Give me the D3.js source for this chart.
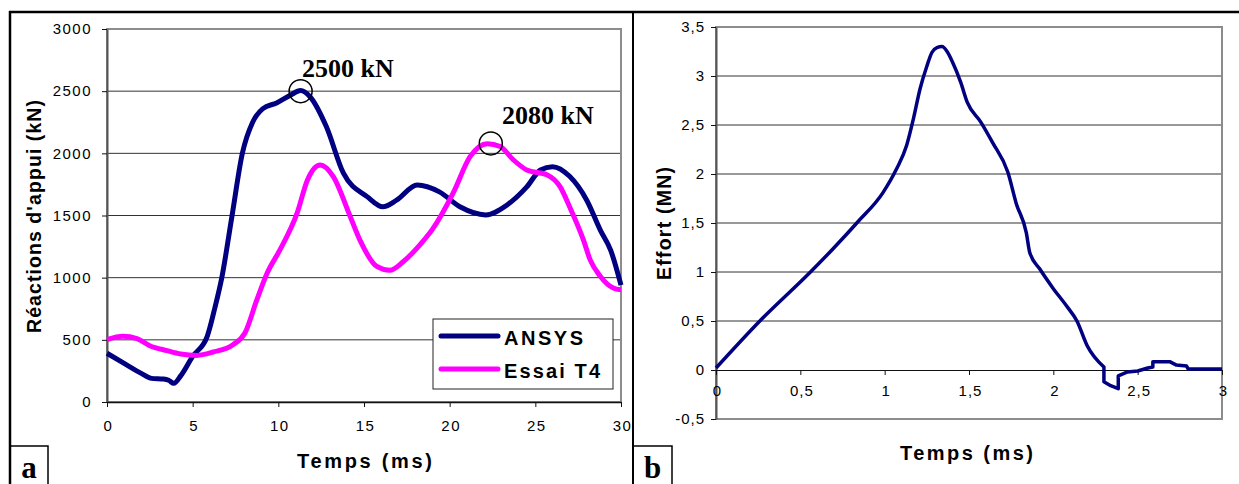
<!DOCTYPE html>
<html><head><meta charset="utf-8">
<script src="https://cdn.jsdelivr.net/npm/d3@7"></script>
<style>body{margin:0;background:#fff}svg{display:block}</style>
</head><body><svg id="c" width="1239" height="484"></svg>
<script>
// ---- Data (panel a) ----
const ansysT = [0, 1, 2, 2.6, 3.3, 3.6, 3.9, 4.3, 5, 5.85, 6.3, 6.7, 7.3, 7.9, 8.5, 9.1, 9.9, 10.7, 11.3, 11.85, 12.8, 13.8, 15.2, 16.1, 16.9, 18.1, 19.4, 20.6, 22.1, 23.35, 24.5, 25.3, 26.0, 27.0, 28.0, 28.8, 29.4, 30];
const ansysV = [392, 310, 230, 190, 185, 175, 150, 210, 367, 528, 760, 1000, 1500, 2000, 2250, 2360, 2405, 2467, 2505, 2455, 2215, 1840, 1650, 1570, 1623, 1745, 1690, 1570, 1505, 1585, 1730, 1866, 1893, 1815, 1623, 1380, 1220, 940];
const essaiT = [0, 0.93, 1.75, 2.5, 3.5, 4.3, 5.25, 6.2, 7.35, 8.05, 8.75, 9.35, 10.1, 11.1, 11.7, 12.45, 13.2, 14.2, 14.75, 15.75, 16.5, 17.3, 18.3, 19.0, 20.2, 21.2, 22.2, 22.95, 23.7, 24.5, 25.7, 26.45, 27, 27.8, 28.2, 28.8, 29.55, 30];
const essaiV = [501, 528, 509, 453, 413, 386, 375, 402, 461, 555, 823, 1037, 1225, 1521, 1786, 1906, 1815, 1490, 1306, 1090, 1059, 1130, 1270, 1390, 1680, 1975, 2078, 2055, 1950, 1866, 1826, 1730, 1570, 1306, 1143, 1010, 917, 903];
const seriesNames = ["ANSYS", "Essai T4"];
const peakT = [11.3, 22.4];
const peakV = [2500, 2080];
const peakLabels = ["2500 kN", "2080 kN"];
const xTicksA = [0, 5, 10, 15, 20, 25, 30];
const yTicksA = [0, 500, 1000, 1500, 2000, 2500, 3000];

// ---- Data (panel b) ----
const effortT = [0, 0.26, 0.56, 0.69, 0.84, 0.99, 1.07, 1.13, 1.17, 1.21, 1.25, 1.28, 1.31, 1.34, 1.37, 1.40, 1.45, 1.49, 1.57, 1.64, 1.73, 1.78, 1.84, 1.86, 1.92, 2.0, 2.08, 2.14, 2.2, 2.30, 2.30, 2.34, 2.385, 2.385, 2.44, 2.5, 2.56, 2.59, 2.59, 2.69, 2.73, 2.79, 2.80, 3.0];
const effortV = [0.02, 0.5, 1.0, 1.23, 1.51, 1.81, 2.05, 2.29, 2.56, 2.87, 3.1, 3.24, 3.29, 3.3, 3.25, 3.15, 2.94, 2.73, 2.53, 2.32, 2.02, 1.70, 1.40, 1.2, 1.03, 0.83, 0.65, 0.50, 0.25, 0.03, -0.12, -0.16, -0.19, -0.06, -0.02, -0.01, 0.02, 0.03, 0.085, 0.085, 0.05, 0.04, 0.01, 0.01];
const xTicksB = [0, 0.5, 1, 1.5, 2, 2.5, 3];
const yTicksB = [-0.5, 0, 0.5, 1, 1.5, 2, 2.5, 3, 3.5];

const svg = d3.select("#c");
const NAVY = "#000080", MAG = "#ff00ff", GRID = "#333", BORDER = "#8c8c8c";
const SANS = "Liberation Sans, Arial, sans-serif";
const fmtComma = d => String(d).replace(".", ",");

// ---------- Panel a ----------
const xA = d3.scaleLinear([0, 30], [107, 621]);
const yA = d3.scaleLinear([0, 3000], [402, 29]);
const gA = svg.append("g");
gA.selectAll("line.grid").data(yTicksA.filter(d => d > 0 && d < 3000)).join("line")
  .attr("x1", xA(0)).attr("x2", xA(30)).attr("y1", d => yA(d)).attr("y2", d => yA(d))
  .attr("stroke", GRID).attr("stroke-width", 1);
gA.append("rect").attr("x", xA(0)).attr("y", yA(3000)).attr("width", xA(30) - xA(0)).attr("height", yA(0) - yA(3000))
  .attr("fill", "none").attr("stroke", BORDER).attr("stroke-width", 2);
const axA_y = gA.append("g").attr("transform", `translate(${xA(0)},0)`)
  .call(d3.axisLeft(yA).tickValues(yTicksA).tickSize(5).tickSizeOuter(0).tickPadding(10).tickFormat(d => String(d)));
const axA_x = gA.append("g").attr("transform", `translate(0,${yA(0)})`)
  .call(d3.axisBottom(xA).tickValues(xTicksA).tickSize(5).tickSizeOuter(0).tickPadding(13).tickFormat(d => String(d)));
axA_y.select(".domain").attr("stroke", "#555").attr("stroke-width", 2);
axA_x.select(".domain").attr("stroke", "#111").attr("stroke-width", 1.5);
[axA_y, axA_x].forEach(a => {
  a.selectAll(".tick line").attr("stroke", "#111");
  a.selectAll("text").attr("font-family", SANS).attr("font-size", 15)
    .attr("letter-spacing", 1.5).attr("fill", "#000");
});
axA_x.selectAll("text").attr("dx", 1);

const lineA = d3.line().curve(d3.curveMonotoneX);
gA.append("path").attr("d", lineA(ansysT.map((t, i) => [xA(t), yA(ansysV[i])])))
  .attr("fill", "none").attr("stroke", NAVY).attr("stroke-width", 5).attr("stroke-linejoin", "round");
gA.append("path").attr("d", lineA(essaiT.map((t, i) => [xA(t), yA(essaiV[i])])))
  .attr("fill", "none").attr("stroke", MAG).attr("stroke-width", 5).attr("stroke-linejoin", "round");

gA.selectAll("circle.pk").data(peakT).join("circle")
  .attr("cx", d => xA(d)).attr("cy", (d, i) => yA(peakV[i])).attr("r", 11.5)
  .attr("fill", "none").attr("stroke", "#000").attr("stroke-width", 1.5);
gA.selectAll("text.pk").data(peakLabels).join("text")
  .attr("x", (d, i) => i === 0 ? 302 : 502).attr("y", (d, i) => i === 0 ? 77 : 124)
  .attr("font-family", "Liberation Serif, Times New Roman, serif").attr("font-weight", "bold")
  .attr("font-size", 26).attr("fill", "#000").text(d => d);

const lg = gA.append("g");
lg.append("rect").attr("x", 433).attr("y", 319).attr("width", 180).attr("height", 70)
  .attr("fill", "#fff").attr("stroke", "#222").attr("stroke-width", 1);
[[NAVY, 336, 345, 79], [MAG, 369, 378, 96]].forEach((s, i) => {
  lg.append("line").attr("x1", 441).attr("x2", 498).attr("y1", s[1]).attr("y2", s[1])
    .attr("stroke", s[0]).attr("stroke-width", 5).attr("stroke-linecap", "round");
  lg.append("text").attr("x", 504).attr("y", s[2]).attr("textLength", s[3]).attr("lengthAdjust", "spacing")
    .attr("font-family", SANS).attr("font-weight", "bold").attr("font-size", 20)
    .attr("fill", "#000").text(seriesNames[i]);
});

gA.append("text").attr("transform", "translate(41,216.5) rotate(-90)").attr("text-anchor", "middle")
  .attr("textLength", 233).attr("lengthAdjust", "spacing")
  .attr("font-family", SANS).attr("font-weight", "bold").attr("font-size", 19.5)
  .attr("fill", "#000").text("Réactions d'appui (kN)");
gA.append("text").attr("x", 364.5).attr("y", 468).attr("text-anchor", "middle")
  .attr("textLength", 135).attr("lengthAdjust", "spacing")
  .attr("font-family", SANS).attr("font-weight", "bold").attr("font-size", 20)
  .attr("fill", "#000").text("Temps (ms)");

// ---------- Panel b ----------
const xB = d3.scaleLinear([0, 3], [716, 1222]);
const yB = d3.scaleLinear([-0.5, 3.5], [419, 27]);
const gB = svg.append("g");
gB.selectAll("line.grid").data(yTicksB.filter(d => d > -0.5 && d < 3.5 && d !== 0)).join("line")
  .attr("x1", xB(0)).attr("x2", xB(3)).attr("y1", d => yB(d)).attr("y2", d => yB(d))
  .attr("stroke", GRID).attr("stroke-width", 1);
gB.append("rect").attr("x", xB(0)).attr("y", yB(3.5)).attr("width", xB(3) - xB(0)).attr("height", yB(-0.5) - yB(3.5))
  .attr("fill", "none").attr("stroke", BORDER).attr("stroke-width", 2);
const axB_y = gB.append("g").attr("transform", `translate(${xB(0)},0)`)
  .call(d3.axisLeft(yB).tickValues(yTicksB).tickSize(5).tickSizeOuter(0).tickPadding(6).tickFormat(fmtComma));
const axB_x = gB.append("g").attr("transform", `translate(0,${yB(0)})`)
  .call(d3.axisBottom(xB).tickValues(xTicksB).tickSize(5).tickSizeOuter(0).tickPadding(10).tickFormat(fmtComma));
axB_y.select(".domain").attr("stroke", "#555").attr("stroke-width", 2);
axB_x.select(".domain").attr("stroke", "#111").attr("stroke-width", 1.2);
[axB_y, axB_x].forEach(a => {
  a.selectAll(".tick line").attr("stroke", "#111");
  a.selectAll("text").attr("font-family", SANS).attr("font-size", 15)
    .attr("letter-spacing", 1).attr("fill", "#000");
});
axB_x.selectAll("text").attr("dx", 1);

const splitIdx = effortT.indexOf(2.30) + 1;
const ptsB = effortT.map((t, i) => [xB(t), yB(effortV[i])]);
gB.append("path").attr("d", d3.line().curve(d3.curveMonotoneX)(ptsB.slice(0, splitIdx)) +
    d3.line().curve(d3.curveLinear)(ptsB.slice(splitIdx - 1)).replace(/^M/, "L"))
  .attr("fill", "none").attr("stroke", NAVY).attr("stroke-width", 3.5).attr("stroke-linejoin", "round");

gB.append("text").attr("transform", "translate(671,223.5) rotate(-90)").attr("text-anchor", "middle")
  .attr("textLength", 113).attr("lengthAdjust", "spacing")
  .attr("font-family", SANS).attr("font-weight", "bold").attr("font-size", 19.5)
  .attr("fill", "#000").text("Effort (MN)");
gB.append("text").attr("x", 966.5).attr("y", 460).attr("text-anchor", "middle")
  .attr("textLength", 133).attr("lengthAdjust", "spacing")
  .attr("font-family", SANS).attr("font-weight", "bold").attr("font-size", 20)
  .attr("fill", "#000").text("Temps (ms)");

// ---------- Frames ----------
const fr = svg.append("g").attr("stroke", "#000").attr("fill", "none");
fr.append("line").attr("x1", 9).attr("x2", 1239).attr("y1", 12).attr("y2", 12).attr("stroke-width", 2.5);
fr.append("line").attr("x1", 10).attr("x2", 10).attr("y1", 11).attr("y2", 484).attr("stroke-width", 2.5);
fr.append("line").attr("x1", 633).attr("x2", 633).attr("y1", 11).attr("y2", 484).attr("stroke-width", 2);
fr.append("rect").attr("x", 10).attr("y", 446).attr("width", 38).attr("height", 40).attr("stroke-width", 1.5);
fr.append("rect").attr("x", 633).attr("y", 446).attr("width", 39).attr("height", 40).attr("stroke-width", 1.5);
[["a", 29], ["b", 652.5]].forEach(d => {
  svg.append("text").attr("x", d[1]).attr("y", 478).attr("text-anchor", "middle")
    .attr("font-family", "Liberation Serif, Times New Roman, serif").attr("font-weight", "bold")
    .attr("font-size", 31).attr("fill", "#000").text(d[0]);
});
</script></body></html>
